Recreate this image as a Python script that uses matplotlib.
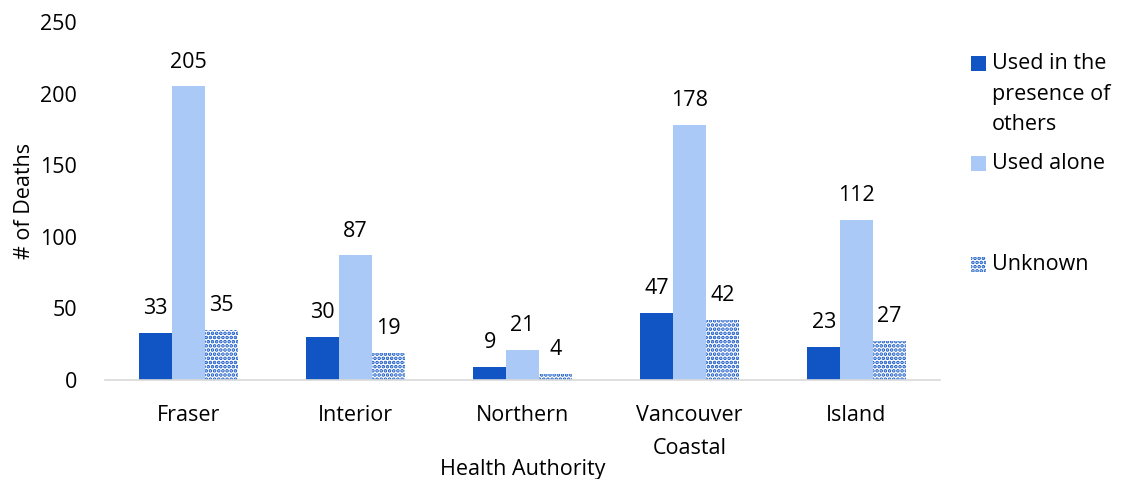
import matplotlib
import numpy as np
import matplotlib.pyplot as plt
from matplotlib.patches import Rectangle

matplotlib.use('Agg')
plt.rcParams['font.family'] = ['Open Sans', 'DejaVu Sans']
plt.rcParams['hatch.linewidth'] = 1.8

authorities = ['Fraser', 'Interior', 'Northern', 'Vancouver\nCoastal', 'Island']
with_others = [33, 30, 9, 47, 23]
alone = [205, 87, 21, 178, 112]
unknown = [35, 19, 4, 42, 27]

dark = '#1155c4'
light = '#abc9f6'
fs = 15.5

fig = plt.figure(figsize=(11.23, 4.79), dpi=100)
ax = fig.add_axes([105 / 1123, 1 - 380 / 479, 835 / 1123, 358 / 479])

x = np.arange(len(authorities))
w = 0.196
b1 = ax.bar(x - w, with_others, w, color=dark)
b2 = ax.bar(x, alone, w, color=light)
b3 = ax.bar(x + w, unknown, w, facecolor='white', edgecolor=dark,
            linewidth=0, hatch='....')

for bars in (b1, b2, b3):
    for r in bars:
        ax.annotate(str(int(r.get_height())),
                    (r.get_x() + r.get_width() / 2, r.get_height()),
                    xytext=(0, 10), textcoords='offset points',
                    ha='center', va='bottom', fontsize=fs)

ax.set_xlim(-0.5, len(authorities) - 0.5)
ax.set_ylim(0, 250)
ax.set_yticks([0, 50, 100, 150, 200, 250])
ax.set_xticks(x)
ax.set_xticklabels(authorities, fontsize=fs, linespacing=1.75)
ax.tick_params(axis='y', labelsize=fs, length=0, pad=20)
ax.tick_params(axis='x', length=0, pad=18)
for s in ['top', 'right', 'left']:
    ax.spines[s].set_visible(False)
ax.spines['bottom'].set_color('#d9d9d9')
ax.spines['bottom'].set_linewidth(1.2)

ax.set_ylabel('# of Deaths', fontsize=fs, labelpad=4)
ax.set_xlabel('Health Authority', fontsize=fs, labelpad=0)

# legend drawn by hand to mimic the spacing
leg_items = [('Used in the\npresence of\nothers', dict(facecolor=dark)),
             ('Used alone', dict(facecolor=light)),
             ('Unknown', dict(facecolor='white', edgecolor=dark, hatch='....', linewidth=0))]
ys = [63, 163, 264]
for (lab, st), yp in zip(leg_items, ys):
    fig.patches.append(Rectangle((971 / 1123, 1 - (yp + 8) / 479), 15 / 1123, 15 / 479,
                                 transform=fig.transFigure, **st))
    fig.text(992 / 1123, 1 - (yp - 10) / 479, lab, fontsize=fs, va='top', ha='left',
             linespacing=1.6)

fig.savefig('out.png', dpi=100)
